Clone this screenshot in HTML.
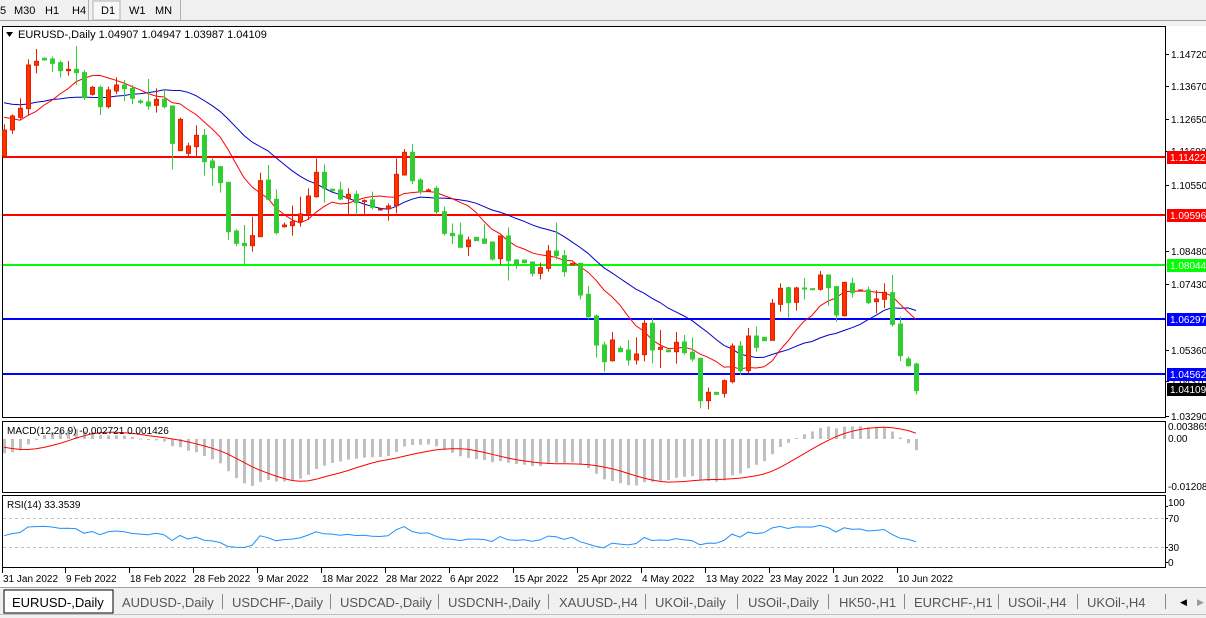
<!DOCTYPE html>
<html><head><meta charset="utf-8">
<style>
body{margin:0;width:1206px;height:618px;overflow:hidden;background:#fff;font-family:"Liberation Sans",sans-serif;}
svg{position:absolute;left:0;top:0}
</style></head><body>
<svg id="s" width="1206" height="618" xmlns="http://www.w3.org/2000/svg" font-family="Liberation Sans, sans-serif" font-size="10"></svg>
<script>
const A=[[300,378,283,378,'r'],[258,300,253,312,'r'],[235,262,205,268,'r'],[105,236,88,255,'r'],[94,106,57,130,'r'],[85,90,82,92,'g'],[87,100,80,126,'g'],[98,122,92,143,'g'],[118,122,93,137,'r'],[118,128,48,165,'g'],[128,203,120,210,'g'],[172,193,168,197,'r'],[172,230,167,255,'g'],[180,230,170,235,'r'],[165,183,142,192,'r'],[165,176,150,213,'g'],[175,205,165,222,'g'],[213,217,208,222,'g'],[216,228,147,240,'g'],[208,226,175,248,'r'],[208,230,178,236,'g'],[228,340,228,418,'g'],[268,362,263,362,'r'],[348,370,338,380,'r'],[316,350,286,380,'r'],[316,395,297,437,'g'],[393,413,382,467,'g'],[410,458,408,488,'g'],[457,605,457,630,'g'],[603,640,598,648,'g'],[640,647,585,702,'g'],[617,647,560,665,'r'],[452,620,428,620,'r'],[450,508,405,510,'g'],[508,608,478,613,'g'],[585,590,577,593,'r'],[575,587,527,617,'r'],[552,575,500,590,'r'],[498,550,475,570,'r'],[427,500,385,503,'r'],[427,475,403,518,'g'],[478,482,475,485,'g'],[480,507,455,510,'g'],[493,505,475,555,'r'],[493,518,482,555,'g'],[512,515,508,555,'r'],[510,532,485,538,'g'],[537,540,535,542,'r'],[528,537,520,572,'r'],[433,527,385,550,'r'],[367,435,357,437,'r'],[367,452,342,462,'g'],[450,485,445,493,'g'],[480,483,475,485,'r'],[475,545,468,555,'g'],[545,610,530,617,'g'],[610,617,580,642,'g']];
const B=[[225,262,188,262,'g'],[240,260,230,288,'r'],[232,242,232,242,'g'],[237,250,192,250,'g'],[246,297,246,302,'g'],[228,296,228,315,'r'],[228,302,202,362,'g'],[300,315,297,327,'g'],[300,308,300,308,'g'],[306,340,306,350,'g'],[323,340,308,358,'r'],[273,325,255,335,'r'],[273,287,188,298,'g'],[287,335,270,350,'g'],[310,315,308,317,'r'],[310,405,310,418,'g'],[403,470,378,478,'g'],[468,555,463,593,'g'],[555,605,545,635,'g'],[540,602,516,605,'r'],[565,575,558,577,'g'],[570,600,540,617,'g'],[582,600,532,614,'r'],[490,584,480,604,'r'],[490,570,472,610,'g'],[562,568,510,624,'r'],[570,575,568,577,'g'],[547,575,516,611,'r'],[546,578,525,584,'g'],[577,597,532,604,'g'],[595,722,595,745,'g'],[697,722,683,748,'r'],[697,703,697,703,'g'],[662,700,658,713,'r'],[558,665,550,670,'r'],[558,632,543,645,'g'],[528,632,504,640,'r'],[528,562,500,575,'g'],[532,542,532,542,'g'],[430,541,417,541,'r'],[385,433,370,455,'r'],[383,428,380,473,'g'],[384,427,380,452,'r'],[384,386,354,418,'g'],[386,388,385,390,'g'],[345,388,333,392,'r'],[345,383,345,437,'g'],[380,465,378,485,'g'],[367,467,367,470,'r'],[370,398,353,412,'g'],[390,392,388,394,'r'],[390,428,380,432,'g'],[417,425,390,460,'r'],[397,418,370,445,'r'],[398,493,345,500,'g'],[492,587,470,603,'g'],[597,617,590,620,'g'],[612,692,608,703,'g']];
const C=[];
A.forEach(c=>C.push(c.slice(0,4).map(v=>30+v/3).concat([c[4]])));
B.forEach(c=>C.push(c.slice(0,4).map(v=>160+v/3).concat([c[4]])));
const P=y=>1.1472-(y-54)/3167;
let o='';
const R=(x,y,w,h,f,st)=>`<rect x="${x}" y="${y}" width="${w}" height="${h}" fill="${f}"${st?` stroke="${st}"`:''}/>`;
const L=(x1,y1,x2,y2,c,w,d)=>`<line x1="${x1}" y1="${y1}" x2="${x2}" y2="${y2}" stroke="${c}" stroke-width="${w||1}"${d?` stroke-dasharray="${d}"`:''}/>`;
const T=(x,y,t,c,a)=>`<text x="${x}" y="${y}" fill="${c||'#000'}"${a?` text-anchor="${a}"`:''}>${t}</text>`;
o+=R(0,0,1206,21,'#f0f0f0');o+=L(0,20.5,1206,20.5,'#a0a0a0');
o+=R(93,1,27,19,'#f8f8f8','#b0b0b0');
o+=L(180.5,0,180.5,20,'#b0b0b0');o+=L(88.5,0,88.5,20,'#b0b0b0');
[['5',0],['M30',14],['H1',45],['H4',72],['D1',101],['W1',129],['MN',155]].forEach(b=>o+=`<text x="${b[1]}" y="14" font-size="11" fill="#000">${b[0]}</text>`);
o+=R(0,21,1206,5,'#f0f0f0');
const X0=2.5,X1=1165.5;
o+=R(X0,26.5,X1-X0,391,'#fff','#000');
o+=R(X0,421.5,X1-X0,71,'#fff','#000');
o+=R(X0,495.5,X1-X0,72,'#fff','#000');
[['1.14720',54],['1.13670',86],['1.12650',119],['1.11600',151],['1.10550',185],['1.08480',251],['1.07430',284],['1.05360',350],['1.04310',381],['1.03290',416]].forEach(t=>{o+=L(1165,t[1]+.5,1169,t[1]+.5,'#000');o+=T(1171,t[1]+4,t[0]);});
[[157,'#ff0000','1.11422'],[215,'#ff0000','1.09596'],[265,'#00ff00','1.08044'],[319,'#0000ff','1.06297'],[374,'#0000ff','1.04562']].forEach(h=>{o+=L(3,h[0],1165,h[0],h[1],2);o+=R(1167,h[0]-6,39,13,h[1]);o+=T(1170,h[0]+4,h[2],'#fff');});
o+=R(1167,383,39,13,'#000');o+=T(1170,393,'1.04109','#fff');
const cl=C.map(c=>c[4]=='r'?P(c[0]):P(c[1]));
let pad=[];for(let i=0;i<30;i++)pad.push(P(88+(i%2?8:-8)+(i%3?3:0)));for(let i=0;i<10;i++)pad.push(P(88+i*5+(i%2?10:-6)));
const all=pad.concat(cl),N=pad.length;
const sma=(n,i)=>{let s=0;for(let k=i-n+1;k<=i;k++)s+=all[k];return s/n;};
const xi=i=>4+i*8;
let red='',blue='';
for(let i=0;i<cl.length;i++){const r=54+(1.1472-sma(10,i+N))*3167,b=54+(1.1472-sma(21,i+N))*3167;red+=(i?'L':'M')+xi(i)+' '+r.toFixed(1);blue+=(i?'L':'M')+xi(i)+' '+b.toFixed(1);}
o+=`<path d="${blue}" fill="none" stroke="#0000cc" stroke-width="1"/><path d="${red}" fill="none" stroke="#ff0000" stroke-width="1"/>`;
C.forEach((c,i)=>{const x=xi(i),f=c[4]=='r'?'#ff3300':'#32cd32',s=c[4]=='r'?'#e02000':'#32cd32';
o+=L(x+.5,c[2],x+.5,c[3],s);o+=R(x-1.5,c[0],4,Math.max(1,c[1]-c[0]),f,s);});
let e12=all[0],e26=all[0],mac=[];
all.forEach(v=>{e12+=(v-e12)*2/13;e26+=(v-e26)*2/27;mac.push(e12-e26);});
let sig=[];for(let i=0;i<mac.length;i++){let s=0,n=0;for(let k=Math.max(0,i-8);k<=i;k++){s+=mac[k];n++;}sig.push(s/n);}
const mm=mac.slice(N),ss=sig.slice(N);const mn=Math.min(...mm,...ss),mx=Math.max(...mm,...ss);
const sc=Math.min(47/-mn,(439-424)/mx);
const my=v=>439-v*sc;
mm.forEach((v,i)=>{const y=my(v);o+=R(xi(i)-1,Math.min(y,439),3,Math.max(1,Math.abs(y-439)),'#c0c0c0');});
let sp='';ss.forEach((v,i)=>sp+=(i?'L':'M')+xi(i)+' '+my(v).toFixed(1));
o+=`<path d="${sp}" fill="none" stroke="#ff0000" stroke-width="1"/>`;
o+=T(7,434,'MACD(12,26,9) -0.002721 0.001426');
[['0.003865',430],['0.00',442],['-0.01208',490]].forEach(t=>o+=T(1168,t[1],t[0]));
o+=L(3,518.5,1165,518.5,'#c0c0c0',1,'3,3');o+=L(3,547.5,1165,547.5,'#c0c0c0',1,'3,3');
let ag=0,al=0,rs=[];
for(let i=1;i<all.length;i++){const d=all[i]-all[i-1],g=Math.max(d,0),l=Math.max(-d,0);if(i<=14){ag+=g/14;al+=l/14;}else{ag=(ag*13+g)/14;al=(al*13+l)/14;}rs.push(al==0?100:100-100/(1+ag/al));}
const rr=rs.slice(N-1);let rp='';rr.forEach((v,i)=>rp+=(i?'L':'M')+xi(i)+' '+(562-v*0.6).toFixed(1));
o+=`<path d="${rp}" fill="none" stroke="#1e90ff" stroke-width="1"/>`;
o+=T(7,508,'RSI(14) 33.3539');
[['100',506],['70',522],['30',551],['0',566]].forEach(t=>o+=T(1168,t[1],t[0]));
[506,518,547,562].forEach(y=>o+=L(1165,y+.5,1168,y+.5,'#000'));
[['31 Jan 2022',3],['9 Feb 2022',66],['18 Feb 2022',130],['28 Feb 2022',194],['9 Mar 2022',258],['18 Mar 2022',322],['28 Mar 2022',386],['6 Apr 2022',450],['15 Apr 2022',514],['25 Apr 2022',578],['4 May 2022',642],['13 May 2022',706],['23 May 2022',770],['1 Jun 2022',834],['10 Jun 2022',898]].forEach(d=>{o+=L(d[1]-.5,568,d[1]-.5,573,'#000');o+=T(d[1],582,d[0]);});
o+=R(0,587,1206,31,'#f0f0f0');o+=L(0,587.5,1206,587.5,'#a0a0a0');
o+=R(4,590,109,23,'#fff','#000');
o+=`<text x="12" y="607" font-size="13" fill="#000">EURUSD-,Daily</text>`;
[['AUDUSD-,Daily',122],['USDCHF-,Daily',232],['USDCAD-,Daily',340],['USDCNH-,Daily',448],['XAUUSD-,H4',559],['UKOil-,Daily',655],['USOil-,Daily',748],['HK50-,H1',839],['EURCHF-,H1',914],['USOil-,H4',1008],['UKOil-,H4',1087]].forEach((t,i)=>{o+=`<text x="${t[1]}" y="607" font-size="13" fill="#555">${t[0]}</text>`;});
[222,330,438,548,645,737,828,904,998,1077,1165].forEach(x=>o+=L(x+.5,594,x+.5,609,'#888'));
o+=`<text x="1180" y="605" font-size="9" fill="#000">◀</text><text x="1197" y="605" font-size="9" fill="#999">▶</text>`;
o+=L(0,614.5,1206,614.5,'#c0c0c0');
o+=`<path d="M6 32 L13 32 L9.5 37Z" fill="#000"/>`;
o+=`<text x="18" y="38" font-size="11" fill="#000">EURUSD-,Daily  1.04907 1.04947 1.03987 1.04109</text>`;
document.getElementById('s').innerHTML=o;
</script>
</body></html>
